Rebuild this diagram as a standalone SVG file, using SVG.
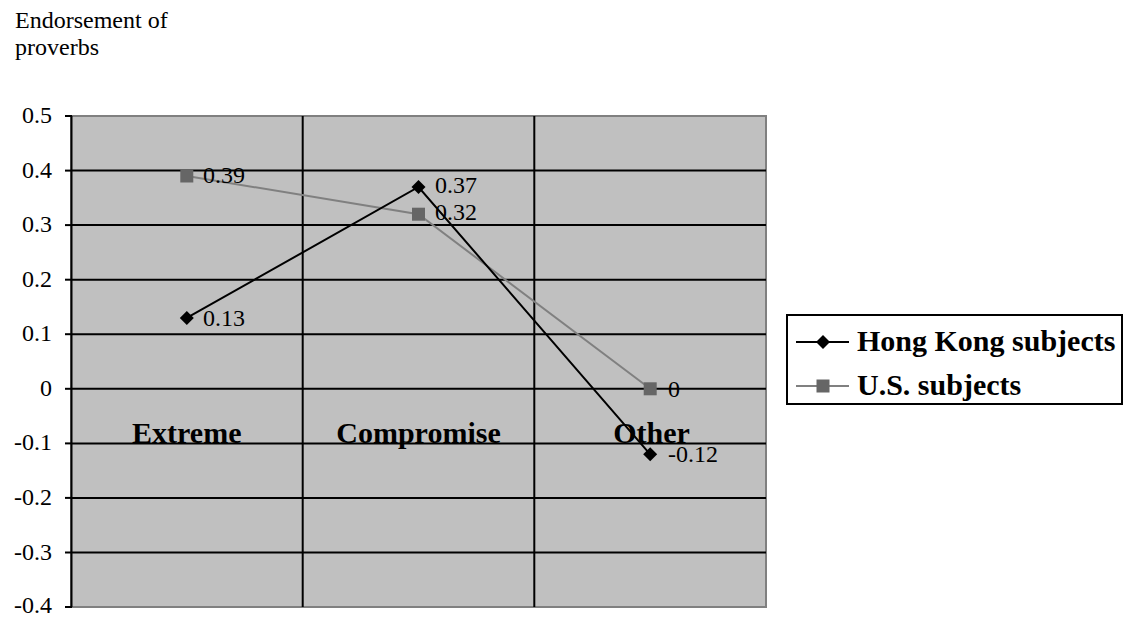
<svg xmlns="http://www.w3.org/2000/svg" width="1124" height="619" viewBox="0 0 1124 619">
<style>
text{font-family:"Liberation Serif","Times New Roman",serif;fill:#000}
.ax{font-size:24px;text-anchor:end}
.dl{font-size:24px}
.cat{font-size:30px;font-weight:bold;text-anchor:middle}
.leg{font-size:30px;font-weight:bold}
.grid{stroke:#000;stroke-width:2}
</style>
<defs>
<path id="dia" d="M0,-7 L7,0 L0,7 L-7,0 Z" fill="#000"/>
<rect id="sq" x="-6.5" y="-6.5" width="13" height="13" fill="#666"/>
</defs>
<rect width="1124" height="619" fill="#fff"/>
<g id="title">
<text x="15" y="28" font-size="24">Endorsement of</text>
<text x="15" y="55" font-size="24">proverbs</text>
</g>
<g id="plot">
<rect x="71" y="116" width="695" height="491" fill="#c0c0c0" stroke="#808080" stroke-width="2"/>
<g class="grid">
<line x1="71" y1="170.6" x2="766" y2="170.6"/>
<line x1="71" y1="225.1" x2="766" y2="225.1"/>
<line x1="71" y1="279.7" x2="766" y2="279.7"/>
<line x1="71" y1="334.2" x2="766" y2="334.2"/>
<line x1="71" y1="388.8" x2="766" y2="388.8"/>
<line x1="71" y1="443.4" x2="766" y2="443.4"/>
<line x1="71" y1="497.9" x2="766" y2="497.9"/>
<line x1="71" y1="552.5" x2="766" y2="552.5"/>
<line x1="302.7" y1="116" x2="302.7" y2="607"/>
<line x1="534.3" y1="116" x2="534.3" y2="607"/>
<line x1="71.5" y1="116" x2="71.5" y2="607"/>
<line x1="65" y1="116" x2="72" y2="116"/>
<line x1="65" y1="170.6" x2="72" y2="170.6"/>
<line x1="65" y1="225.1" x2="72" y2="225.1"/>
<line x1="65" y1="279.7" x2="72" y2="279.7"/>
<line x1="65" y1="334.2" x2="72" y2="334.2"/>
<line x1="65" y1="388.8" x2="72" y2="388.8"/>
<line x1="65" y1="443.4" x2="72" y2="443.4"/>
<line x1="65" y1="497.9" x2="72" y2="497.9"/>
<line x1="65" y1="552.5" x2="72" y2="552.5"/>
<line x1="65" y1="607" x2="72" y2="607"/>
</g>
<g id="yaxis">
<text class="ax" x="52" y="123">0.5</text>
<text class="ax" x="52" y="177.6">0.4</text>
<text class="ax" x="52" y="232.1">0.3</text>
<text class="ax" x="52" y="286.7">0.2</text>
<text class="ax" x="52" y="341.2">0.1</text>
<text class="ax" x="52" y="395.8">0</text>
<text class="ax" x="52" y="450.4">-0.1</text>
<text class="ax" x="52" y="504.9">-0.2</text>
<text class="ax" x="52" y="559.5">-0.3</text>
<text class="ax" x="52" y="613">-0.4</text>
</g>
<g id="categories">
<text class="cat" x="186.8" y="443">Extreme</text>
<text class="cat" x="418.5" y="443">Compromise</text>
<text class="cat" x="651.5" y="443">Other</text>
</g>
</g>
<g id="connectors">
<polyline points="186.8,176 418.5,214.2 650.2,388.8" fill="none" stroke="#808080" stroke-width="2"/>
<polyline points="186.8,317.9 418.5,187 650.2,454.3" fill="none" stroke="#000" stroke-width="2"/>
</g>
<g id="us-series">
<use href="#sq" x="186.8" y="176"/>
<use href="#sq" x="418.5" y="214.2"/>
<use href="#sq" x="650.2" y="388.8"/>
<text class="dl" x="203" y="183">0.39</text>
<text class="dl" x="435" y="220">0.32</text>
<text class="dl" x="668" y="397">0</text>
</g>
<g id="hk-series">
<use href="#dia" x="186.8" y="317.9"/>
<use href="#dia" x="418.5" y="187"/>
<use href="#dia" x="650.2" y="454.3"/>
<text class="dl" x="203" y="326">0.13</text>
<text class="dl" x="435" y="193">0.37</text>
<text class="dl" x="668" y="462">-0.12</text>
</g>
<g id="legend">
<rect x="787" y="315" width="335" height="89" fill="#fff" stroke="#000" stroke-width="2"/>
<line x1="796" y1="342" x2="849" y2="342" stroke="#000" stroke-width="2"/>
<use href="#dia" x="823" y="342"/>
<text class="leg" x="857" y="351">Hong Kong subjects</text>
<line x1="796" y1="386" x2="849" y2="386" stroke="#808080" stroke-width="2"/>
<use href="#sq" x="823" y="386"/>
<text class="leg" x="857" y="395">U.S. subjects</text>
</g>
</svg>
